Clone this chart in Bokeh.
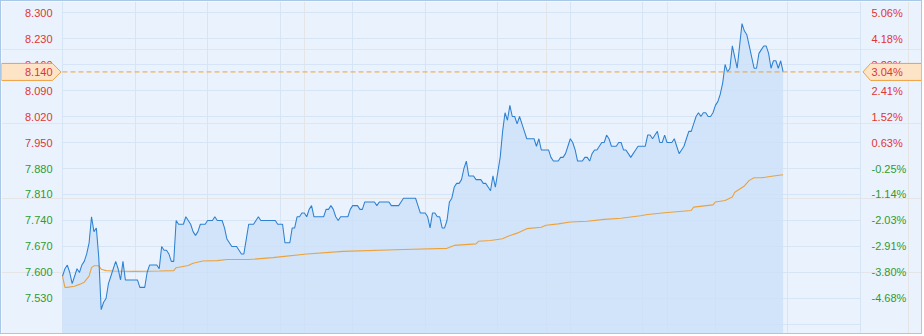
from bokeh.plotting import figure
from bokeh.models import ColumnDataSource, FixedTicker, Range1d, Grid
from bokeh.core.properties import value
from bokeh.embed import file_html
from bokeh.resources import INLINE

# ---------------- data ----------------
PREV_CLOSE = 7.90
SESSION_MINUTES = 330

price_minute = list(range(0, 299))
price_value = [
    7.59, 7.61, 7.62, 7.60, 7.57, 7.59, 7.61, 7.60, 7.62, 7.63,   # 0-9
    7.65, 7.68, 7.75, 7.71, 7.72, 7.64, 7.50, 7.52, 7.53, 7.57,   # 10-19
    7.59, 7.61, 7.63, 7.61, 7.58, 7.63, 7.58, 7.58, 7.58, 7.58,   # 20-29
    7.58, 7.58, 7.56, 7.56, 7.56, 7.60, 7.62, 7.62, 7.62, 7.62,   # 30-39
    7.61, 7.67, 7.66, 7.66, 7.65, 7.63, 7.63, 7.74, 7.73, 7.73,   # 40-49
    7.73, 7.75, 7.74, 7.73, 7.71, 7.70, 7.71, 7.73, 7.73, 7.73,   # 50-59
    7.74, 7.74, 7.74, 7.75, 7.74, 7.74, 7.74, 7.72, 7.69, 7.68,   # 60-69
    7.67, 7.67, 7.67, 7.66, 7.65, 7.65, 7.69, 7.73, 7.73, 7.73,   # 70-79
    7.74, 7.75, 7.74, 7.74, 7.74, 7.74, 7.74, 7.74, 7.74, 7.73,   # 80-89
    7.73, 7.73, 7.68, 7.68, 7.68, 7.72, 7.72, 7.75, 7.75, 7.76,   # 90-99
    7.76, 7.75, 7.77, 7.78, 7.75, 7.75, 7.75, 7.75, 7.75, 7.77,   # 100-109
    7.77, 7.78, 7.77, 7.75, 7.74, 7.75, 7.75, 7.75, 7.75, 7.77,   # 110-119
    7.78, 7.78, 7.78, 7.77, 7.77, 7.79, 7.79, 7.79, 7.79, 7.79,   # 120-129
    7.78, 7.79, 7.79, 7.79, 7.79, 7.79, 7.78, 7.78, 7.78, 7.78,   # 130-139
    7.79, 7.80, 7.80, 7.80, 7.80, 7.80, 7.80, 7.78, 7.76, 7.76,   # 140-149
    7.76, 7.75, 7.72, 7.76, 7.76, 7.75, 7.75, 7.72, 7.72, 7.74,   # 150-159
    7.79, 7.80, 7.83, 7.84, 7.84, 7.85, 7.88, 7.90, 7.86, 7.86,   # 160-169
    7.86, 7.85, 7.85, 7.85, 7.84, 7.84, 7.83, 7.82, 7.86, 7.83,   # 170-179
    7.87, 7.91, 7.98, 8.03, 8.01, 8.05, 8.02, 8.02, 8.00, 8.02,   # 180-189
    8.00, 7.98, 7.96, 7.96, 7.96, 7.96, 7.94, 7.96, 7.93, 7.93,   # 190-199
    7.93, 7.93, 7.91, 7.90, 7.90, 7.90, 7.91, 7.91, 7.92, 7.94,   # 200-209
    7.96, 7.95, 7.93, 7.90, 7.90, 7.90, 7.91, 7.91, 7.90, 7.92,   # 210-219
    7.93, 7.93, 7.94, 7.95, 7.95, 7.97, 7.96, 7.94, 7.94, 7.94,   # 220-229
    7.95, 7.95, 7.93, 7.93, 7.92, 7.91, 7.92, 7.93, 7.94, 7.94,   # 230-239
    7.94, 7.94, 7.97, 7.97, 7.96, 7.97, 7.98, 7.95, 7.95, 7.97,   # 240-249
    7.95, 7.95, 7.95, 7.96, 7.94, 7.92, 7.93, 7.94, 7.96, 7.98,   # 250-259
    7.98, 8.00, 8.02, 8.03, 8.02, 8.03, 8.03, 8.02, 8.02, 8.03,   # 260-269
    8.05, 8.06, 8.08, 8.11, 8.16, 8.14, 8.15, 8.21, 8.18, 8.15,   # 270-279
    8.21, 8.27, 8.25, 8.24, 8.21, 8.18, 8.15, 8.15, 8.19, 8.20,   # 280-289
    8.21, 8.21, 8.19, 8.15, 8.17, 8.17, 8.15, 8.17, 8.14,         # 290-298
]

avg_minute = [0, 1, 2, 5, 7, 9, 11, 12, 13, 15, 16, 18, 21, 30, 40, 46, 47,
              52, 54, 58, 64, 68, 77, 87, 101, 116, 141, 159, 162, 171, 172,
              177, 182, 184, 188, 192, 198, 200, 205, 210, 217, 224, 231, 239,
              242, 249, 260, 261, 269, 270, 274, 277, 278, 282, 284, 286, 289,
              294, 298]
avg_value = [7.590, 7.560, 7.560, 7.563, 7.568, 7.574, 7.590, 7.613, 7.618,
             7.618, 7.609, 7.605, 7.604, 7.603, 7.604, 7.605, 7.613, 7.619,
             7.625, 7.631, 7.632, 7.635, 7.635, 7.640, 7.650, 7.657, 7.662,
             7.665, 7.673, 7.677, 7.684, 7.686, 7.691, 7.697, 7.706, 7.718,
             7.722, 7.727, 7.731, 7.736, 7.738, 7.743, 7.746, 7.753, 7.756,
             7.761, 7.767, 7.776, 7.782, 7.790, 7.794, 7.803, 7.816, 7.833,
             7.848, 7.855, 7.855, 7.860, 7.863]

x_ticks = [0, 30, 60, 90, 120, 150, 180, 210, 240, 270, 300, 330]
y_ticks = [7.46, 7.53, 7.60, 7.67, 7.74, 7.81, 7.88, 7.95, 8.02, 8.09,
           8.16, 8.23, 8.30]
left_tick_labels = ["", "7.530", "7.600", "7.670", "7.740", "7.810", "7.880",
                    "7.950", "8.020", "8.090", "8.160", "8.230", "8.300"]
right_tick_labels = ["", "-4.68%", "-3.80%", "-2.91%", "-2.03%", "-1.14%",
                     "-0.25%", "0.63%", "1.52%", "2.41%", "3.29%", "4.18%",
                     "5.06%"]

# ---------------- style ----------------
BG = "#eaf3fd"
GRID = "#d5e5f6"
RED = "#de3535"
GREEN = "#2f9a2f"
LINE_BLUE = "#2d80d2"
FILL_BLUE = "#cde0f8"
ORANGE = "#eca23c"
BOX_FILL = "#fde4c6"
BOX_LINE = "#eea040"
FONT = "Liberation Sans"

W, H = 922, 334
FRAME_L, FRAME_R = 61, 859          # canvas px of the chart area edges
X0, X1 = 0, SESSION_MINUTES
Y0, Y1 = 7.43038, 8.32962          # value range of the full canvas height


def sx(px):
    """canvas pixel -> minute coordinate"""
    return X0 + (px - FRAME_L) * (X1 - X0) / (FRAME_R - FRAME_L)


def sy_off(dpx):
    return dpx * (Y1 - Y0) / H


p = figure(width=W, height=H, x_range=Range1d(sx(0), sx(W)),
           y_range=Range1d(Y0, Y1),
           output_backend="svg", toolbar_location=None,
           x_axis_location=None, y_axis_location=None,
           min_border_left=0, min_border_right=0,
           min_border_top=0, min_border_bottom=0)
p.background_fill_color = BG
p.border_fill_color = BG
p.outline_line_color = None
p.styles = {"border": "1px solid #a9c8e8"}

# vertical grid (full height) and horizontal grid limited to the chart area
p.add_layout(Grid(dimension=0, ticker=FixedTicker(ticks=x_ticks),
                  grid_line_color=GRID, grid_line_width=1))
p.segment(x0=[X0] * len(y_ticks), x1=[X1] * len(y_ticks), y0=y_ticks, y1=y_ticks,
          line_color=GRID, line_width=1)

src = ColumnDataSource(dict(x=price_minute, y=price_value,
                            base=[Y0] * len(price_value)))
p.varea(x="x", y1="base", y2="y", source=src, fill_color=FILL_BLUE, fill_alpha=0.85)
p.line(avg_minute, avg_value, line_color=ORANGE, line_width=1.1)
p.line(x="x", y="y", source=src, line_color=LINE_BLUE, line_width=1.05)

last_price = price_value[-1]
last_pct = (last_price / PREV_CLOSE - 1) * 100

# dashed current-price line across the chart area
p.line([X0, X1], [last_price, last_price], line_color=ORANGE, line_dash="5 3",
       line_width=1)

colors = [RED if t > PREV_CLOSE else GREEN for t in y_ticks]
lab_src = ColumnDataSource(dict(y=y_ticks, lt=left_tick_labels,
                                rt=right_tick_labels, c=colors,
                                xl=[sx(51)] * len(y_ticks),
                                xr=[sx(870)] * len(y_ticks)))
p.text(x="xl", y="y", text="lt", source=lab_src, text_align="right",
       text_baseline="middle", text_color="c", text_font=value(FONT),
       text_font_size="11px")
p.text(x="xr", y="y", text="rt", source=lab_src, text_align="left",
       text_baseline="middle", text_color="c", text_font=value(FONT),
       text_font_size="11px")

# current price markers
hh = sy_off(8.5)
top, bot = last_price + hh, last_price - hh
p.patch([sx(0), sx(51), sx(59.5), sx(51), sx(0)],
        [top, top, last_price, bot, bot],
        fill_color=BOX_FILL, line_color=BOX_LINE, line_width=1)
p.patch([sx(861.5), sx(869), sx(921.5), sx(921.5), sx(869)],
        [last_price, top, top, bot, bot],
        fill_color=BOX_FILL, line_color=BOX_LINE, line_width=1)
p.text(x=[sx(51)], y=[last_price], text=[f"{last_price:.3f}"],
       text_align="right", text_baseline="middle", text_color=RED,
       text_font=value(FONT), text_font_size="11px")
p.text(x=[sx(870)], y=[last_price], text=[f"{last_pct:.2f}%"],
       text_align="left", text_baseline="middle", text_color=RED,
       text_font=value(FONT), text_font_size="11px")

open("out.html", "w").write(file_html(p, INLINE))
